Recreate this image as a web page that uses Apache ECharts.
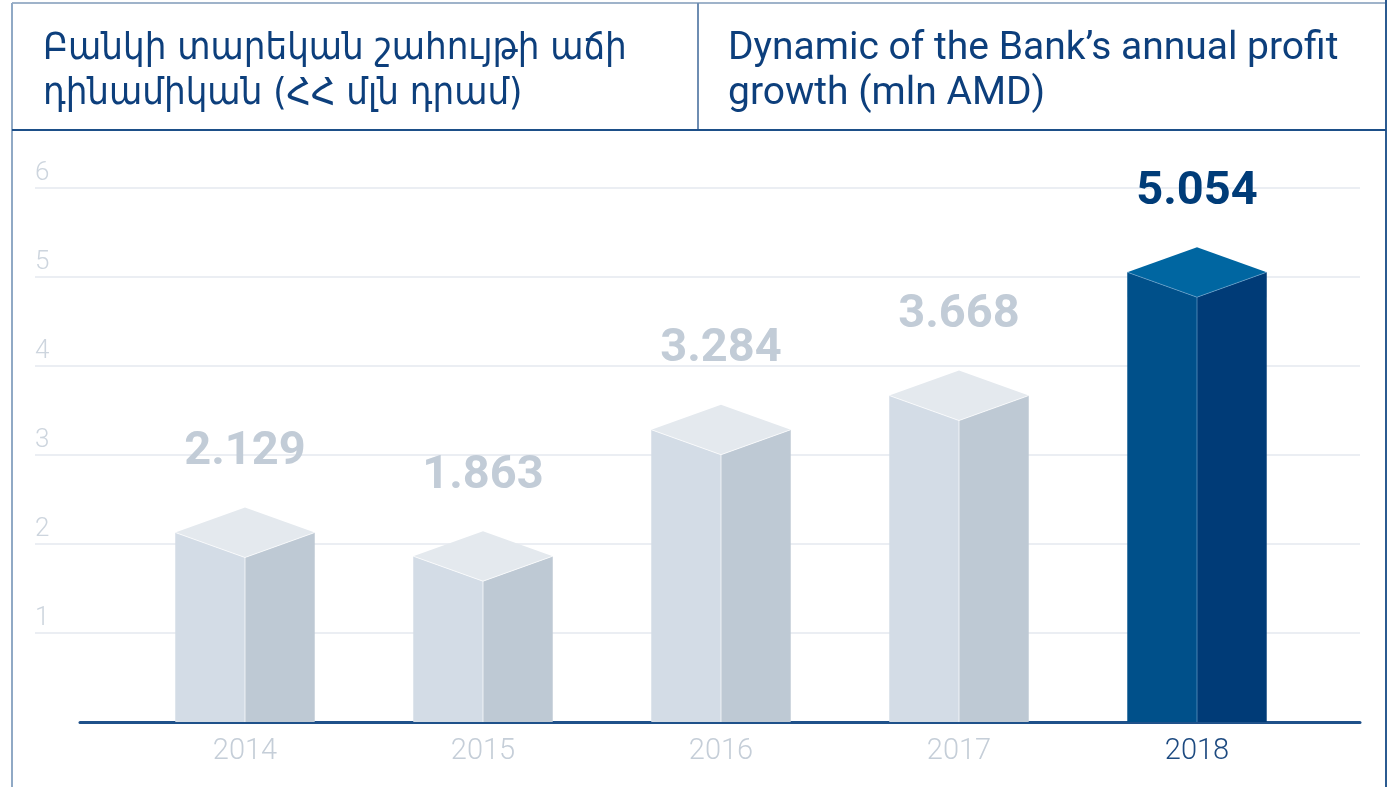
<!DOCTYPE html>
<html>
<head>
<meta charset="utf-8">
<script src="https://cdn.jsdelivr.net/npm/echarts@6/dist/echarts.min.js"></script>
<style>
  html, body { margin: 0; padding: 0; background: #fff; }
  #chart { width: 1397px; height: 787px; }
</style>
</head>
<body>
<div id="chart"></div>
<script>
var years = ['2014', '2015', '2016', '2017', '2018'];
var profit = [2.129, 1.863, 3.284, 3.668, 5.054];
var profitLabels = ['2.129', '1.863', '3.284', '3.668', '5.054'];
var yTicks = [0, 1, 2, 3, 4, 5, 6];

var titleArm = 'Բանկի տարեկան շահույթի աճի\nդինամիկան (ՀՀ մլն դրամ)';
var titleEng = 'Dynamic of the Bank’s annual profit\ngrowth (mln AMD)';

// light bars / highlighted last bar
var grey = { left: '#d3dce6', right: '#bec9d4', top: '#e4e9ee', text: '#c2ccd7' };
var blue = { left: '#00508a', right: '#003b77', top: '#0066a1', text: '#003c78' };

var chart = echarts.init(document.getElementById('chart'));

function renderBar(params, api) {
    var i = api.value(0);
    var top = api.coord([i, api.value(1)]);
    var base = api.coord([i, 0]);
    var band = api.size([1, 0])[0];
    var hw = band * 0.293;
    var d = 25;
    var x = top[0], y = top[1], y0 = base[1];
    var c = i === years.length - 1 ? blue : grey;
    var edge = i === years.length - 1 ? 'rgba(120,170,210,0.6)' : 'rgba(255,255,255,0.7)';
    return {
        type: 'group',
        children: [
            {
                type: 'polygon',
                shape: { points: [[x - hw, y], [x, y + d], [x, y0], [x - hw, y0]] },
                style: { fill: c.left }
            },
            {
                type: 'polygon',
                shape: { points: [[x, y + d], [x + hw, y], [x + hw, y0], [x, y0]] },
                style: { fill: c.right }
            },
            {
                type: 'polygon',
                shape: { points: [[x - hw, y], [x, y - d], [x + hw, y], [x, y + d]] },
                style: { fill: c.top }
            },
            {
                type: 'polyline',
                shape: { points: [[x - hw, y], [x, y + d], [x + hw, y]] },
                style: { stroke: edge, lineWidth: 1, fill: null }
            },
            {
                type: 'line',
                shape: { x1: x, y1: y + d, x2: x, y2: y0 },
                style: { stroke: edge, lineWidth: 1 }
            },
            {
                type: 'text',
                style: {
                    x: x, y: y - 80,
                    text: profitLabels[i],
                    align: 'center', verticalAlign: 'middle',
                    fontFamily: 'Roboto', fontWeight: 'bold', fontSize: 47,
                    fill: c.text
                }
            }
        ]
    };
}

var option = {
    backgroundColor: '#fff',
    animation: false,
    title: [
        {
            text: titleArm,
            left: 38, top: 22,
            textStyle: {
                fontFamily: 'DejaVu Sans Condensed', fontWeight: 'normal',
                fontSize: 38, lineHeight: 45, color: '#0d3f7c'
            }
        },
        {
            text: titleEng,
            left: 723, top: 22,
            textStyle: {
                fontFamily: 'Roboto', fontWeight: 'normal',
                fontSize: 39, lineHeight: 45, color: '#0d3f7c'
            }
        }
    ],
    graphic: [
        { type: 'line', shape: { x1: 12, y1: 3, x2: 1386, y2: 3 }, style: { stroke: '#9fb3ca', lineWidth: 2 } },
        { type: 'line', shape: { x1: 12, y1: 3, x2: 12, y2: 787 }, style: { stroke: '#90a9c5', lineWidth: 2 } },
        { type: 'line', shape: { x1: 1386, y1: 0, x2: 1386, y2: 787 }, style: { stroke: '#2b5b91', lineWidth: 2 } },
        { type: 'line', shape: { x1: 698, y1: 3, x2: 698, y2: 130 }, style: { stroke: '#6e8db2', lineWidth: 2 } },
        { type: 'line', shape: { x1: 12, y1: 130, x2: 1386, y2: 130 }, style: { stroke: '#1d4f88', lineWidth: 2 } }
    ],
    grid: [
        { left: 126, right: 81, top: 188, bottom: 65 },
        { left: 35, right: 37, top: 188, bottom: 65 },
        { left: 80, right: 37, top: 188, bottom: 65 }
    ],
    xAxis: [
        {
            gridIndex: 0, type: 'category', data: years,
            axisLine: { show: false }, axisTick: { show: false },
            axisLabel: {
                margin: 15, fontFamily: 'Roboto', fontWeight: 300, fontSize: 29,
                color: function (v, idx) { return v === years[years.length - 1] ? '#1d4a80' : '#c5ced8'; }
            }
        },
        {
            gridIndex: 1, type: 'category', data: years,
            axisLine: { show: false }, axisTick: { show: false }, axisLabel: { show: false }
        },
        {
            gridIndex: 2, type: 'category', data: years,
            axisLine: { show: true, lineStyle: { color: '#1f518a', width: 3 } },
            axisTick: { show: false }, axisLabel: { show: false }
        }
    ],
    yAxis: [
        {
            gridIndex: 0, type: 'value', min: 0, max: 6, interval: 1,
            axisLine: { show: false }, axisTick: { show: false },
            axisLabel: { show: false }, splitLine: { show: false }
        },
        {
            gridIndex: 1, type: 'value', min: 0, max: 6, interval: 1,
            axisLine: { show: false }, axisTick: { show: false },
            axisLabel: {
                inside: true, margin: 0, align: 'left', verticalAlign: 'middle',
                padding: [0, 0, 0, 0],
                fontFamily: 'Roboto', fontWeight: 300, fontSize: 26, color: '#cdd5de',
                formatter: function (v) { return v === yTicks[0] ? '' : '{n|' + v + '}'; },
                rich: {
                    n: { fontFamily: 'Roboto', fontWeight: 300, fontSize: 26, color: '#cdd5de', padding: [0, 0, 30, 0] }
                }
            },
            splitLine: {
                show: true,
                lineStyle: {
                    width: 1.5,
                    color: yTicks.map(function (t) { return t === 0 ? 'rgba(0,0,0,0)' : '#e4e9ef'; })
                }
            }
        },
        {
            gridIndex: 2, type: 'value', min: 0, max: 6, interval: 1, show: false
        }
    ],
    series: [
        {
            type: 'custom',
            xAxisIndex: 0, yAxisIndex: 0,
            renderItem: renderBar,
            data: profit.map(function (v, i) { return [i, v]; }),
            z: 5
        }
    ]
};

chart.setOption(option);
</script>
</body>
</html>
